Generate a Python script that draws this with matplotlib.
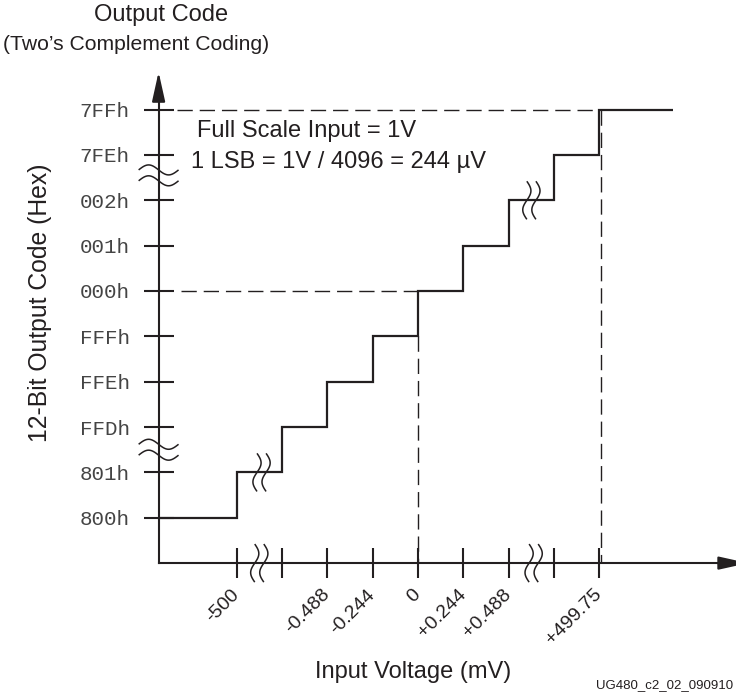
import numpy as np
import matplotlib
matplotlib.use('Agg')
from matplotlib import pyplot as plt

plt.rcParams['font.family'] = ['Liberation Sans', 'DejaVu Sans']

#############################################################################################################
# data: input slots (1 slot = 1 LSB, with breaks) and output code index (000h = 0)
x_ticks = [-4, -3, -2, -1, 0, 1, 2, 3, 4]
x_labels = ['-500', '', '-0.488', '-0.244', '0', '+0.244', '+0.488', '', '+499.75']
y_ticks = [-5, -4, -3, -2, -1, 0, 1, 2, 3, 4]
y_labels = ['800h', '801h', 'FFDh', 'FFEh', 'FFFh', '000h', '001h', '002h', '7FEh', '7FFh']

step_edges = [-5.72, -4, -3, -2, -1, 0, 1, 2, 3, 4, 5.63]
step_codes = [-5, -4, -3, -2, -1, 0, 1, 2, 3, 4]

x_breaks = [-3.5, 2.55]
y_breaks = [-3.5, 2.55]
step_breaks_x = [-3.45, 2.5]
step_breaks_y = [-4, 2]

axis_x = step_edges[0]
axis_y = -6

#############################################################################################################
# figure set up, 1 slot = 45.35 px in both directions
c = '#231f20'
px = 45.35
W, H = 736, 698
x0_px, y0_px = 418, 291

fig = plt.figure(figsize=(W / 100, H / 100), dpi=100)
ax = fig.add_axes([0, 0, 1, 1])
ax.set_xlim(-x0_px / px, (W - x0_px) / px)
ax.set_ylim((y0_px - H) / px, y0_px / px)


def fx(p):
    return p / W


def fy(p):
    return 1 - p / H


for s in ['top', 'right']:
    ax.spines[s].set_visible(False)
ax.spines['left'].set_position(('data', axis_x))
ax.spines['bottom'].set_position(('data', axis_y))
ax.spines['left'].set_bounds(axis_y, 4.4)
ax.spines['bottom'].set_bounds(axis_x, 6.85)
for s in ['left', 'bottom']:
    ax.spines[s].set_linewidth(1.5)
    ax.spines[s].set_color(c)
    ax.spines[s].set_capstyle('projecting')

# arrow heads
arrow = dict(arrowstyle='-|>,head_length=0.9,head_width=0.2', mutation_scale=20,
             lw=1.5, color=c, shrinkA=0, shrinkB=0)
ax.annotate('', xy=(axis_x, 4.83), xytext=(axis_x, 4.2), arrowprops=arrow, annotation_clip=False)
ax.annotate('', xy=(7.28, axis_y), xytext=(6.6, axis_y), arrowprops=arrow, annotation_clip=False)

# ticks
ax.set_xticks(x_ticks, x_labels)
ax.set_yticks(y_ticks, y_labels)
ax.tick_params(direction='inout', length=21.6, width=1.5, color=c)
ax.tick_params(axis='y', pad=10, labelsize=15, labelcolor='#444444')
for lab in ax.get_yticklabels():
    lab.set_fontfamily(['Liberation Mono', 'DejaVu Sans Mono'])
ax.tick_params(axis='x', pad=10, labelsize=14, labelcolor=c)
plt.setp(ax.get_xticklabels(), rotation=45, ha='right', va='center', rotation_mode='anchor')

#############################################################################################################
# transfer function
ax.stairs(step_codes, step_edges, baseline=None, color=c, lw=1.6)

dash = (0, (11, 5))
ax.plot([axis_x + 0.4, step_edges[-2]], [step_codes[-1], step_codes[-1]], ls=dash, lw=1, color=c)
ax.plot([axis_x + 0.5, 0], [0, 0], ls=dash, lw=1, color=c)
ax.plot([0, 0], [step_codes[4], axis_y], ls=dash, lw=1, color=c)
ax.plot([step_edges[-2] + 0.03, step_edges[-2] + 0.03], [step_codes[-1], axis_y], ls=dash, lw=1, color=c)


# break marks
def squiggle(xc, yc, vertical):
    t = np.linspace(0, 1, 60)
    for off in (-1, 1):
        if vertical:
            xs = xc + off * 0.1 + 0.09 * np.sin(2 * np.pi * t)
            ys = yc + 0.42 - 0.84 * t
        else:
            xs = xc - 0.44 + 0.88 * t
            ys = yc + off * 0.12 + 0.11 * np.sin(2 * np.pi * t)
        ax.plot(xs, ys, color=c, lw=1.1, solid_capstyle='butt')


for xb in x_breaks:
    squiggle(xb, axis_y, True)
for yb in y_breaks:
    squiggle(axis_x, yb, False)
for xb, yb in zip(step_breaks_x, step_breaks_y):
    squiggle(xb, yb, True)

#############################################################################################################
# texts
fig.text(fx(161), fy(15), 'Output Code', ha='center', va='center', fontsize=17, color=c)
fig.text(fx(136), fy(45), '(Two\u2019s Complement Coding)', ha='center', va='center', fontsize=15.2, color=c)
fig.text(fx(40), fy(303), '12-Bit Output Code (Hex)', ha='center', va='center', rotation=90,
         fontsize=17.8, color=c)
fig.text(fx(413), fy(672), 'Input Voltage (mV)', ha='center', va='center', fontsize=17, color=c)
fig.text(fx(197), fy(131), 'Full Scale Input = 1V', ha='left', va='center', fontsize=17, color=c)
fig.text(fx(191), fy(162), '1 LSB = 1V / 4096 = 244 \u00b5V', ha='left', va='center', fontsize=17, color=c)
fig.text(fx(596), fy(685), 'UG480_c2_02_090910', ha='left', va='center', fontsize=9.5, color=c)

fig.savefig('out.png', dpi=100)
